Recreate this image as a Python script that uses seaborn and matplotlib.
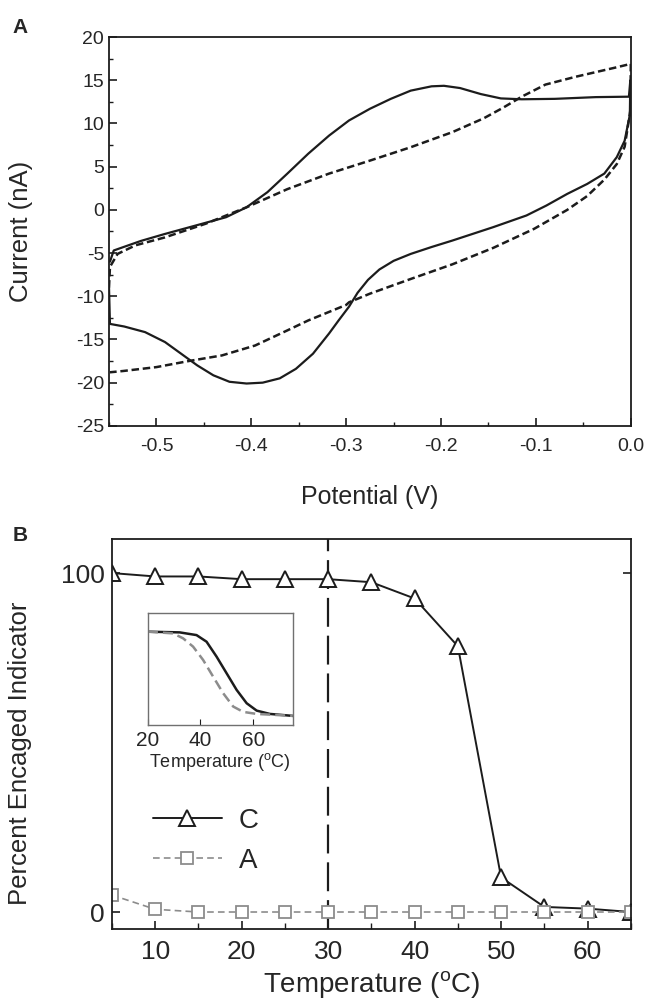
import numpy as np
import pandas as pd
import seaborn as sns
import matplotlib.pyplot as plt
from matplotlib.ticker import MultipleLocator

# ---- panel A: cyclic voltammograms ----
solid_v = [-0.549, -0.545, -0.5165, -0.4915, -0.4266, -0.405, -0.383, -0.362, -0.34, -0.318, -0.297,
           -0.275, -0.253, -0.232, -0.21, -0.197, -0.18, -0.158, -0.137, -0.115, -0.08, -0.037,
           -0.002, -0.0005, -0.001, -0.0065, -0.0148, -0.0279, -0.046, -0.067, -0.089, -0.11,
           -0.145, -0.188, -0.21, -0.232, -0.25, -0.265, -0.277, -0.288, -0.297, -0.308, -0.318,
           -0.335, -0.353, -0.37, -0.388, -0.405, -0.423, -0.44, -0.457, -0.474, -0.491, -0.512,
           -0.534, -0.549, -0.55]
solid_i = [-6.0, -4.7, -3.6, -2.8, -0.85, 0.3, 2.05, 4.2, 6.5, 8.6, 10.35,
           11.7, 12.85, 13.8, 14.3, 14.36, 14.1, 13.4, 12.9, 12.8, 12.85, 13.05,
           13.1, 15.0, 11.0, 8.0, 6.1, 4.2, 3.0, 1.85, 0.5, -0.65,
           -2.0, -3.55, -4.3, -5.1, -5.9, -6.9, -8.1, -9.6, -11.2, -12.8, -14.3,
           -16.65, -18.4, -19.5, -20.0, -20.1, -19.9, -19.15, -18.0, -16.65, -15.3, -14.15,
           -13.5, -13.2, -9.0]

dash_v = [-0.55, -0.549, -0.541, -0.522, -0.4915, -0.448, -0.405, -0.362, -0.318, -0.275, -0.232,
          -0.188, -0.155, -0.135, -0.115, -0.09, -0.0584, -0.015, 0.0, -0.0005, -0.0065, -0.0148,
          -0.0279, -0.046, -0.067, -0.102, -0.145, -0.188, -0.232, -0.275, -0.297, -0.3, -0.34,
          -0.362, -0.396, -0.431, -0.466, -0.5, -0.535, -0.549]
dash_i = [-9.0, -6.6, -5.1, -4.1, -3.2, -1.6, 0.3, 2.4, 4.2, 5.7, 7.25,
          9.0, 10.6, 11.8, 13.1, 14.5, 15.4, 16.5, 16.9, 11.5, 7.3, 5.3,
          3.5, 1.6, 0.0, -2.2, -4.4, -6.3, -8.0, -9.7, -10.7, -11.0, -12.8,
          -13.95, -15.7, -16.85, -17.5, -18.2, -18.65, -18.8]

# ---- panel B: percent encaged indicator ----
temps = [5, 10, 15, 20, 25, 30, 35, 40, 45, 50, 55, 60, 65]
pct_C = [100, 99, 99, 98.2, 98.2, 98.2, 97.3, 92.5, 78.4, 10.2, 1.5, 1.0, 0]
pct_A = [5, 0.8, 0, 0, 0, 0, 0, 0, 0, 0, 0, 0, 0]

# inset curves
ins_solid_t = [20.1, 32.1, 38.5, 42.3, 46.1, 49.9, 53.7, 57.5, 61.3, 66.3, 75]
ins_solid_y = [100, 99.2, 96, 88.2, 70.6, 51, 31.4, 15.7, 7, 3.1, 0.8]
ins_dash_t = [20.1, 29.6, 33.4, 37.2, 41, 44.8, 48.6, 52.4, 56.2, 61.3, 75]
ins_dash_y = [100, 98, 92.2, 82.4, 66.7, 47, 27.5, 11.8, 5.5, 3.1, 0.8]

sns.set_style('ticks')
plt.rcParams['font.family'] = ['Liberation Sans', 'DejaVu Sans']
plt.rcParams['mathtext.fontset'] = 'custom'
plt.rcParams['mathtext.rm'] = 'Liberation Sans'
plt.rcParams['axes.unicode_minus'] = False

ink = '#1c1c1c'
grey = '#8c8c8c'

fig = plt.figure(figsize=(6.45, 10.02), dpi=100)
axA = fig.add_axes([0.169, 0.575, 0.809, 0.388])
axB = fig.add_axes([0.1736, 0.0729, 0.8044, 0.389])

# panel A
sns.lineplot(x=solid_v, y=solid_i, sort=False, estimator=None, ax=axA, color=ink, lw=1.6)
sns.lineplot(x=dash_v, y=dash_i, sort=False, estimator=None, ax=axA, color=ink, lw=1.8,
             linestyle=(0, (3, 1.5)))
axA.set_xlim(-0.55, 0.0)
axA.set_ylim(-25, 20)
axA.xaxis.set_major_locator(MultipleLocator(0.1))
axA.xaxis.set_minor_locator(MultipleLocator(0.05))
axA.yaxis.set_major_locator(MultipleLocator(5))
axA.yaxis.set_minor_locator(MultipleLocator(2.5))
axA.xaxis.set_major_formatter(plt.FuncFormatter(lambda v, p: f'{v:.1f}'))
axA.tick_params(which='both', direction='in', labelsize=14, color=ink)
axA.tick_params(which='major', length=6, width=1.2)
axA.tick_params(which='minor', length=3, width=1.0)
axA.tick_params(axis='x', pad=9)
axA.set_xlabel('Potential (V)', fontsize=18, va='center')
axA.set_ylabel('Current (nA)', fontsize=18.5, va='center')
axA.xaxis.set_label_coords(0.5, -0.183)
axA.yaxis.set_label_coords(-0.168, 0.5)
for s in axA.spines.values():
    s.set_linewidth(1.3)
    s.set_color(ink)

# panel B
sns.lineplot(x=temps, y=pct_C, ax=axB, color=ink, lw=1.4, marker='^', markersize=11,
             markerfacecolor='white', markeredgecolor=ink, markeredgewidth=1.4, label='C')
sns.lineplot(x=temps, y=pct_A, ax=axB, color=grey, lw=1.2, linestyle=(0, (4, 2.5)),
             marker='s', markersize=9, markerfacecolor='white', markeredgecolor=grey,
             markeredgewidth=1.3, label='A')
axB.axvline(30, color=ink, lw=1.6, linestyle=(0, (13, 4)), zorder=1)
axB.set_xlim(5, 65)
axB.set_ylim(-5, 110)
axB.set_yticks([0, 100])
axB.xaxis.set_major_locator(MultipleLocator(10))
axB.xaxis.set_minor_locator(MultipleLocator(5))
axB.xaxis.set_major_formatter(plt.FuncFormatter(lambda v, p: '' if v in (0, 70) else f'{v:.0f}'))
axB.tick_params(which='both', direction='in', labelsize=19, color=ink)
axB.tick_params(axis='y', right=True, length=6, width=1.2, pad=5)
axB.tick_params(axis='x', which='major', length=6, width=1.2, pad=8)
axB.tick_params(axis='x', which='minor', length=4, width=1.0)
axB.set_xlabel(r'Temperature ($^{\rm o}$C)', fontsize=20, va='center')
axB.set_ylabel('Percent Encaged Indicator', fontsize=18.5, va='center')
axB.xaxis.set_label_coords(0.5, -0.144)
axB.yaxis.set_label_coords(-0.178, 0.45)
for s in axB.spines.values():
    s.set_linewidth(1.3)
    s.set_color(ink)
leg = axB.legend(loc='upper left', bbox_to_anchor=(0.03, 0.375), frameon=False, fontsize=20,
                 handlelength=2.5, handletextpad=0.6, labelspacing=0.5)

# inset
axI = fig.add_axes([0.229, 0.2764, 0.225, 0.1118])
sns.lineplot(x=ins_solid_t, y=ins_solid_y, ax=axI, color=ink, lw=1.8)
sns.lineplot(x=ins_dash_t, y=ins_dash_y, ax=axI, color=grey, lw=1.8, linestyle=(0, (4, 2)))
axI.set_xlim(20, 75)
axI.set_ylim(-10, 122)
axI.set_xticks([20, 40, 60])
axI.set_yticks([])
axI.tick_params(direction='in', length=4, labelsize=15, pad=4, color=ink)
axI.set_xlabel(r'Temperature ($^{\rm o}$C)', fontsize=13, labelpad=1)
for s in axI.spines.values():
    s.set_linewidth(1.0)
    s.set_color('#707070')

fig.text(0.02, 0.973, 'A', fontsize=15, fontweight='bold', va='center')
fig.text(0.02, 0.466, 'B', fontsize=15, fontweight='bold', va='center')

fig.savefig('out.png', dpi=100)
